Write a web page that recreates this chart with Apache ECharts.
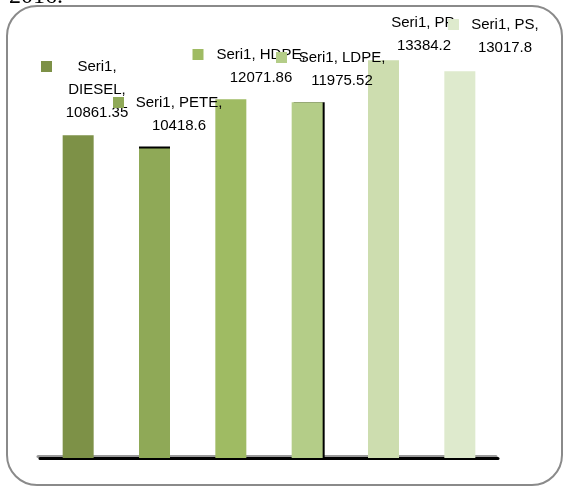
<!DOCTYPE html>
<html>
<head>
<meta charset="utf-8">
<style>
  html, body { margin: 0; padding: 0; background: #fff; }
  #main { width: 563px; height: 486px; }
</style>
</head>
<body>
<div id="main"></div>
<script src="https://cdn.jsdelivr.net/npm/echarts@6/dist/echarts.min.js"></script>
<script>
// data
var seriesName = 'Seri1';
var categories = ['DIESEL', 'PETE', 'HDPE', 'LDPE', 'PP', 'PS'];
var values = [10861.35, 10418.6, 12071.86, 11975.52, 13384.2, 13017.8];

// looks
var barColors = ['#7d9147', '#8fa957', '#9fbb63', '#b4cd88', '#cdddaf', '#deeacd'];
// label block: centre x, top y, box width, marker shown?
var labelBox = [
  [97, 55, 112, true],
  [179, 91, 132, true],
  [261, 43, 137, true],
  [342, 46, 132, true],
  [424, 11, 68, false],
  [505, 13, 114, true]
];

var rich = {
  t: { fontFamily: 'Liberation Sans', fontSize: 15, lineHeight: 23, color: '#000', align: 'center' },
  s: { width: 11, height: 11, align: 'right' }
};
barColors.forEach(function (c, i) {
  rich['m' + i] = { width: 11, height: 11, backgroundColor: c, align: 'left' };
});

function labelText(i) {
  var lines;
  if (i === 0) {
    lines = [seriesName + ',', categories[i] + ',', String(values[i])];
  } else {
    lines = [seriesName + ', ' + categories[i] + ',', String(values[i])];
  }
  var out = [];
  lines.forEach(function (l, k) {
    if (k === 0 && labelBox[i][3]) {
      out.push('{m' + i + '|}{t|' + l + '}{s|}');
    } else {
      out.push('{t|' + l + '}');
    }
  });
  return out.join('\n');
}

var barData = values.map(function (v, i) {
  var item = { value: v, itemStyle: { color: barColors[i] } };
  if (categories[i] === 'PETE') {
    item.itemStyle.shadowColor = '#000';
    item.itemStyle.shadowOffsetY = -2;
    item.itemStyle.shadowBlur = 0;
  }
  if (categories[i] === 'LDPE') {
    item.itemStyle.shadowColor = '#000';
    item.itemStyle.shadowOffsetX = 2;
    item.itemStyle.shadowBlur = 0;
  }
  item.label = { width: labelBox[i][2] };
  return item;
});

var myChart = echarts.init(document.getElementById('main'));

var option = {
  animation: false,
  backgroundColor: '#fff',
  title: {
    text: '2016.',
    left: 4,
    top: -20,
    textStyle: { fontFamily: 'Liberation Serif', fontSize: 24, fontWeight: 'normal', color: '#000' }
  },
  graphic: [{
    type: 'rect',
    shape: { x: 7, y: 6, width: 555, height: 479, r: 30 },
    style: { fill: 'none', stroke: '#8a8a8a', lineWidth: 2 },
    silent: true
  }],
  grid: { left: 40, top: 42, width: 458, height: 416 },
  xAxis: {
    type: 'category',
    data: categories,
    offset: 2,
    axisLine: { lineStyle: { color: '#000', width: 3, shadowColor: '#9a9a9a', shadowOffsetY: -2, shadowOffsetX: -2 } },
    axisTick: { show: false },
    axisLabel: { show: false }
  },
  yAxis: {
    type: 'value',
    min: 0,
    max: 14000,
    show: false,
    splitLine: { show: false }
  },
  series: [{
    name: seriesName,
    type: 'bar',
    barWidth: 31,
    data: barData,
    label: {
      show: true,
      position: 'top',
      formatter: function (p) { return labelText(p.dataIndex); },
      rich: rich
    },
    labelLayout: function (p) {
      var b = labelBox[p.dataIndex];
      return { x: b[0], y: b[1], align: 'center', verticalAlign: 'top' };
    }
  }]
};

myChart.setOption(option);
</script>
</body>
</html>
